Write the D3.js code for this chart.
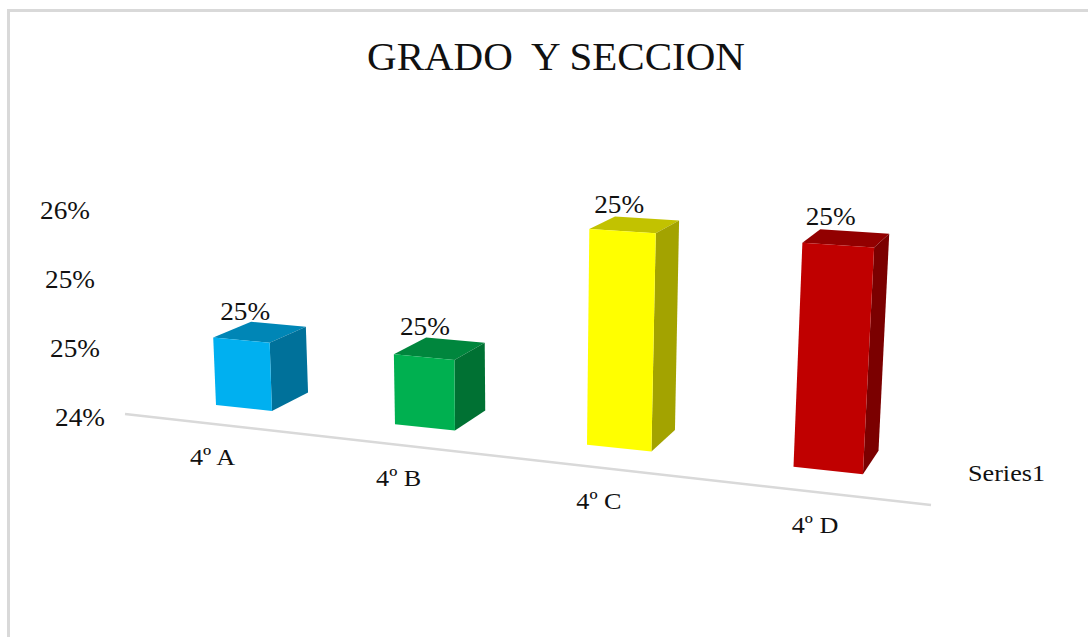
<!DOCTYPE html>
<html><head><meta charset="utf-8">
<script src="https://cdn.jsdelivr.net/npm/d3@7"></script>
<style>html,body{margin:0;padding:0;background:#fff}svg{display:block}text{font-family:"Liberation Serif",serif;fill:#111}</style>
</head><body><svg id="c" width="1088" height="637"></svg>
<script>
const categories = ["4º A","4º B","4º C","4º D"];
const values = [24.5,24.5,25.49,25.49];
const colors = ["#00B0F0","#00B050","#FFFF00","#C00000"];
const tickValues = [24,24.5,25,25.5];
const seriesName = "Series1";
const titleWords = ["GRADO ","Y SECCION"];

const svg = d3.select("#c");
const pct = v => v.toFixed(0) + "%";

// perspective model of the 3D plot
const persp = {p:165.6,q:216,r:-0.0339,k:135,slope:0.107,y0:405,lean:0.00014,leanX:510,vpX:1237,vpY:-86,depth:0.037,barW:0.32};
const valueHeight = d3.scaleLinear().domain([24,25]).range([0,persp.k]);
function project(u,v,d){
  const w = 1+persp.r*u;
  const x0 = (persp.p*u+persp.q)/w;
  const y0 = persp.y0+persp.slope*(x0-persp.q);
  const h = valueHeight(v)/w;
  let x = x0+persp.lean*(x0-persp.leanX)*h, y = y0-h;
  if(d){const f=persp.depth/w; x+=(persp.vpX-x)*f; y+=(persp.vpY-y)*f;}
  return [x,y];
}
const axisLine = d3.scaleLinear().domain([125,931]).range([414,505]);
// the source picture is slightly stretched horizontally
const stretch = sel => sel.each(function(){
  this.setAttribute("textLength",this.getComputedTextLength()*1.09);
  this.setAttribute("lengthAdjust","spacingAndGlyphs");
});

// frame
svg.append("path").attr("d","M8.5,637V10.5H1088").attr("fill","none").attr("stroke","#d9d9d9").attr("stroke-width",3);

// title
const title = svg.append("text").attr("x",367).attr("y",70).attr("font-size",39);
title.selectAll("tspan").data(titleWords).join("tspan").attr("dx",(d,i)=>i?9:0).text(d=>d);
title.attr("textLength",378).attr("lengthAdjust","spacingAndGlyphs");

// value ticks
const tickY = d3.scaleLinear().domain([24,25.5]).range([425.5,218.5]);
const tickX = d3.scaleLinear().domain([24,25.5]).range([105,90]);
svg.append("g").selectAll("text").data(tickValues).join("text")
  .attr("x",tickX).attr("y",tickY).attr("text-anchor","end").attr("font-size",25).text(pct).call(stretch);

// category axis
svg.append("line").attr("x1",axisLine.domain()[0]).attr("x2",axisLine.domain()[1])
  .attr("y1",axisLine.range()[0]).attr("y2",axisLine.range()[1]).attr("stroke","#d9d9d9").attr("stroke-width",2.5);

const line = d3.line();
const bars = svg.append("g").selectAll("g").data(values.map((v,i)=>({v,i,c:colors[i]}))).join("g");
const face = (sel,fn,shade)=>sel.append("path")
  .attr("d",d=>line(fn(d))+"Z")
  .attr("fill",d=>{const c=d3.rgb(d.c);return d3.rgb(c.r*shade,c.g*shade,c.b*shade).formatHex();});
const U=d=>d.i, R=d=>d.i+persp.barW;
face(bars,d=>[project(U(d),d.v,0),project(R(d),d.v,0),project(R(d),d.v,1),project(U(d),d.v,1)],0.76);
face(bars,d=>[project(R(d),24,0),project(R(d),d.v,0),project(R(d),d.v,1),project(R(d),24,1)],0.64);
face(bars,d=>[project(U(d),24,0),project(R(d),24,0),project(R(d),d.v,0),project(U(d),d.v,0)],1);

// data labels
svg.append("g").selectAll("text").data(values).join("text")
  .attr("x",(v,i)=>project(i-0.035+0.028*i,v,1)[0]).attr("y",(v,i)=>project(i,v,1)[1]-2-0.8*i)
  .attr("text-anchor","middle").attr("font-size",25).text(pct).call(stretch);

// category labels
svg.append("g").selectAll("text").data(categories).join("text")
  .attr("x",(d,i)=>project(i-0.02+0.04*i,24,0)[0])
  .attr("y",(d,i)=>axisLine(project(i-0.02+0.04*i,24,0)[0])+41)
  .attr("text-anchor","middle").attr("font-size",24).text(d=>d).call(stretch);

// legend
svg.append("text").attr("x",968).attr("y",481).attr("font-size",24).text(seriesName).call(stretch);
</script></body></html>
